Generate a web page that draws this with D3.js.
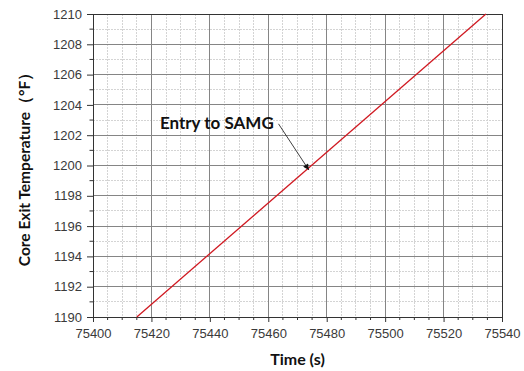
<!DOCTYPE html>
<html>
<head>
<meta charset="utf-8">
<script src="https://cdn.jsdelivr.net/npm/d3@7"></script>
<style>
  body { margin: 0; background: #fff; }
  .tick text { font-family: "Liberation Sans", Arial, sans-serif; font-size: 13px; fill: #3a3a3a; }
  .axisTitle { font-family: Lato, "Liberation Sans", sans-serif; font-weight: bold; font-size: 16px; fill: #111; }
</style>
</head>
<body>
<div id="plot"></div>
<script>
// data
var timeSec = [75415, 75534.5];
var coreTemp = [1190, 1210];

var xTicks = [75400, 75420, 75440, 75460, 75480, 75500, 75520, 75540];
var yTicks = [1190, 1192, 1194, 1196, 1198, 1200, 1202, 1204, 1206, 1208, 1210];

// annotation: label anchor, arrow start and arrow tip (data units)
var noteText = "Entry to SAMG";
var noteAt = [75422.9, 1202.4];
var arrowFrom = [75463.5, 1202.75];
var arrowTo = [75473.9, 1199.7];

var svgWidth = 524;
var svgHeight = 371;

var margin = {
  top: 14,
  right: 22,
  bottom: 54,
  left: 93
};

var width = svgWidth - margin.left - margin.right;
var height = svgHeight - margin.top - margin.bottom;

var svg = d3.select("#plot")
  .append("svg")
  .attr("width", svgWidth)
  .attr("height", svgHeight);

var defs = svg.append("defs");
defs.append("marker")
  .attr("id", "arrowhead")
  .attr("viewBox", "0 0 10 10")
  .attr("refX", 10)
  .attr("refY", 5)
  .attr("markerWidth", 8)
  .attr("markerHeight", 6)
  .attr("markerUnits", "userSpaceOnUse")
  .attr("orient", "auto")
  .append("path")
  .attr("d", "M0,0 L10,5 L0,10 z")
  .attr("fill", "#111");

var chartGroup = svg.append("g")
  .attr("transform", `translate(${margin.left}, ${margin.top})`);

var xScale = d3.scaleLinear()
  .domain([75400, 75540])
  .range([0, width]);

var yScale = d3.scaleLinear()
  .domain([1190, 1210])
  .range([height, 0]);

var xMinor = d3.range(75400, 75540 + 0.1, 5).filter(v => xTicks.indexOf(v) < 0);
var yMinor = d3.range(1190, 1210 + 0.1, 1).filter(v => yTicks.indexOf(v) < 0);

// minor grid
chartGroup.append("g")
  .selectAll("line")
  .data(xMinor)
  .enter()
  .append("line")
  .attr("x1", d => xScale(d)).attr("x2", d => xScale(d))
  .attr("y1", 0).attr("y2", height)
  .attr("stroke", "#d4d4d4")
  .attr("stroke-dasharray", "2,1")
  .attr("shape-rendering", "crispEdges");

chartGroup.append("g")
  .selectAll("line")
  .data(yMinor)
  .enter()
  .append("line")
  .attr("y1", d => yScale(d)).attr("y2", d => yScale(d))
  .attr("x1", 0).attr("x2", width)
  .attr("stroke", "#d4d4d4")
  .attr("stroke-dasharray", "2,1")
  .attr("shape-rendering", "crispEdges");

// major grid
chartGroup.append("g")
  .selectAll("line")
  .data(xTicks)
  .enter()
  .append("line")
  .attr("x1", d => xScale(d)).attr("x2", d => xScale(d))
  .attr("y1", 0).attr("y2", height)
  .attr("stroke", "#858585")
  .attr("shape-rendering", "crispEdges");

chartGroup.append("g")
  .selectAll("line")
  .data(yTicks)
  .enter()
  .append("line")
  .attr("y1", d => yScale(d)).attr("y2", d => yScale(d))
  .attr("x1", 0).attr("x2", width)
  .attr("stroke", "#858585")
  .attr("shape-rendering", "crispEdges");

// frame
chartGroup.append("rect")
  .attr("width", width)
  .attr("height", height)
  .attr("fill", "none")
  .attr("stroke", "#333")
  .attr("shape-rendering", "crispEdges");

// axes
var bottomAxis = d3.axisBottom(xScale)
  .tickValues(xTicks)
  .tickFormat(d3.format("d"))
  .tickSize(5)
  .tickPadding(7);

var leftAxis = d3.axisLeft(yScale)
  .tickValues(yTicks)
  .tickFormat(d3.format("d"))
  .tickSize(6)
  .tickPadding(5);

var xAxisG = chartGroup.append("g")
  .attr("transform", `translate(0, ${height})`)
  .call(bottomAxis);

var yAxisG = chartGroup.append("g")
  .call(leftAxis);

[xAxisG, yAxisG].forEach(function (g) {
  g.select(".domain").attr("stroke", "#333");
  g.selectAll(".tick line").attr("stroke", "#333");
  g.attr("font-family", null).attr("font-size", null);
});

// minor ticks
xAxisG.append("g")
  .selectAll("line")
  .data(xMinor)
  .enter()
  .append("line")
  .attr("x1", d => xScale(d)).attr("x2", d => xScale(d))
  .attr("y1", 0).attr("y2", 3)
  .attr("stroke", "#333");

yAxisG.append("g")
  .selectAll("line")
  .data(yMinor)
  .enter()
  .append("line")
  .attr("y1", d => yScale(d)).attr("y2", d => yScale(d))
  .attr("x1", 0).attr("x2", -3.5)
  .attr("stroke", "#333");

// series
var line = d3.line()
  .x(d => xScale(d[0]))
  .y(d => yScale(d[1]));

chartGroup.append("path")
  .datum(d3.zip(timeSec, coreTemp))
  .attr("d", line)
  .attr("fill", "none")
  .attr("stroke", "#d01a22")
  .attr("stroke-width", 1.3);

// annotation
chartGroup.append("text")
  .attr("class", "axisTitle")
  .style("font-size", "17px")
  .attr("x", xScale(noteAt[0]))
  .attr("y", yScale(noteAt[1]))
  .text(noteText);

chartGroup.append("line")
  .attr("x1", xScale(arrowFrom[0]))
  .attr("y1", yScale(arrowFrom[1]))
  .attr("x2", xScale(arrowTo[0]))
  .attr("y2", yScale(arrowTo[1]))
  .attr("stroke", "#111")
  .attr("stroke-width", 0.8)
  .attr("marker-end", "url(#arrowhead)");

// axis titles
chartGroup.append("text")
  .attr("transform", "rotate(-90)")
  .attr("x", -height / 2)
  .attr("y", 30 - margin.left)
  .attr("text-anchor", "middle")
  .attr("class", "axisTitle")
  .style("font-size", "15.5px")
  .text("Core Exit Temperature（°F）");

chartGroup.append("text")
  .attr("x", width / 2)
  .attr("y", height + 48)
  .attr("text-anchor", "middle")
  .attr("class", "axisTitle")
  .text("Time (s)");
</script>
</body>
</html>
